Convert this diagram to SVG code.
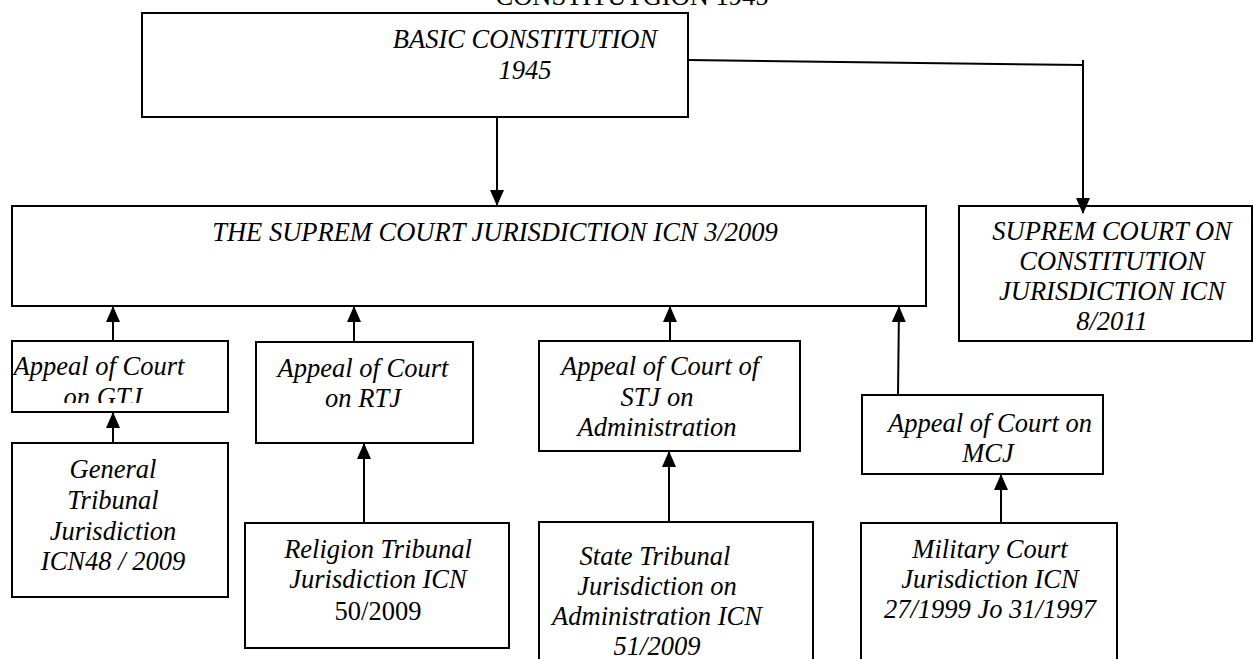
<svg xmlns="http://www.w3.org/2000/svg" width="1253" height="659" viewBox="0 0 1253 659">
<style>
.box{fill:#fff;stroke:#000;stroke-width:2}
.t{font-family:"Liberation Serif","Times New Roman",serif;font-size:26.5px;font-style:italic;fill:#000;text-anchor:middle}
.r{font-style:normal}
.c{stroke:#000;stroke-width:2;fill:none}
</style>
<defs>
<marker id="ah" markerUnits="userSpaceOnUse" markerWidth="16" markerHeight="14" viewBox="0 0 16 14" refX="15" refY="7" orient="auto">
<path d="M0,0 L16,7 L0,14 z" fill="#000"/>
</marker>
<clipPath id="clipGTJ"><rect x="12" y="341" width="216" height="62"/></clipPath>
<clipPath id="clipSCC"><rect x="959" y="206" width="294" height="124"/></clipPath>
</defs>
<text class="t r" x="632" y="5">CONSTITUTGION 1945</text>
<g id="basic">
<rect class="box" x="142" y="13" width="546" height="104"/>
<text class="t" x="525" y="48">BASIC CONSTITUTION</text>
<text class="t" x="525" y="79">1945</text>
</g>
<g id="supreme">
<rect class="box" x="12" y="206" width="914" height="100"/>
<text class="t" x="495" y="241">THE SUPREM COURT JURISDICTION ICN 3/2009</text>
</g>
<g id="constcourt">
<rect class="box" x="959" y="206" width="293" height="135"/>
<g clip-path="url(#clipSCC)">
<text class="t" x="1112" y="240">SUPREM COURT ON</text>
<text class="t" x="1112" y="270">CONSTITUTION</text>
<text class="t" x="1112" y="300">JURISDICTION ICN</text>
<text class="t" x="1112" y="330">8/2011</text>
</g>
</g>
<g id="appealGTJ">
<rect class="box" x="12" y="341" width="216" height="71"/>
<g clip-path="url(#clipGTJ)">
<text class="t" x="99" y="375">Appeal of Court</text>
<text class="t" x="103" y="406">on GTJ</text>
</g>
</g>
<g id="general">
<rect class="box" x="12" y="443" width="216" height="154"/>
<text class="t" x="113" y="478">General</text>
<text class="t" x="113" y="509">Tribunal</text>
<text class="t" x="113" y="540">Jurisdiction</text>
<text class="t" x="113" y="570">ICN48 / 2009</text>
</g>
<g id="appealRTJ">
<rect class="box" x="256" y="342" width="217" height="101"/>
<text class="t" x="363" y="377">Appeal of Court</text>
<text class="t" x="363" y="407">on RTJ</text>
</g>
<g id="religion">
<rect class="box" x="245" y="523" width="264" height="125"/>
<text class="t" x="378" y="558">Religion Tribunal</text>
<text class="t" x="378" y="588">Jurisdiction ICN</text>
<text class="t r" x="378" y="620">50/2009</text>
</g>
<g id="appealSTJ">
<rect class="box" x="539" y="341" width="261" height="110"/>
<text class="t" x="660" y="375">Appeal of Court of</text>
<text class="t" x="657" y="406">STJ on</text>
<text class="t" x="657" y="436">Administration</text>
</g>
<g id="state">
<rect class="box" x="539" y="522" width="274" height="150"/>
<text class="t" x="655" y="565">State Tribunal</text>
<text class="t" x="657" y="595">Jurisdiction on</text>
<text class="t" x="657" y="625">Administration ICN</text>
<text class="t" x="657" y="655">51/2009</text>
</g>
<g id="appealMCJ">
<rect class="box" x="862" y="395" width="241" height="79"/>
<text class="t" x="990" y="432">Appeal of Court on</text>
<text class="t" x="988" y="462">MCJ</text>
</g>
<g id="military">
<rect class="box" x="861" y="523" width="256" height="150"/>
<text class="t" x="990" y="558">Military Court</text>
<text class="t" x="990" y="588">Jurisdiction ICN</text>
<text class="t" x="990" y="618">27/1999 Jo 31/1997</text>
</g>
<g id="connectors">
<line class="c" x1="497" y1="117" x2="497" y2="205" marker-end="url(#ah)"/>
<line class="c" x1="688" y1="60" x2="1083" y2="65"/>
<line class="c" x1="1083" y1="60" x2="1083" y2="213" marker-end="url(#ah)"/>
<line class="c" x1="113" y1="341" x2="113" y2="307" marker-end="url(#ah)"/>
<line class="c" x1="354" y1="342" x2="354" y2="307" marker-end="url(#ah)"/>
<line class="c" x1="670" y1="341" x2="670" y2="307" marker-end="url(#ah)"/>
<line class="c" x1="898" y1="395" x2="899" y2="307" marker-end="url(#ah)"/>
<line class="c" x1="113" y1="443" x2="113" y2="413" marker-end="url(#ah)"/>
<line class="c" x1="364" y1="523" x2="364" y2="444" marker-end="url(#ah)"/>
<line class="c" x1="669" y1="522" x2="669" y2="452" marker-end="url(#ah)"/>
<line class="c" x1="1001" y1="523" x2="1001" y2="475" marker-end="url(#ah)"/>
</g>
</svg>
